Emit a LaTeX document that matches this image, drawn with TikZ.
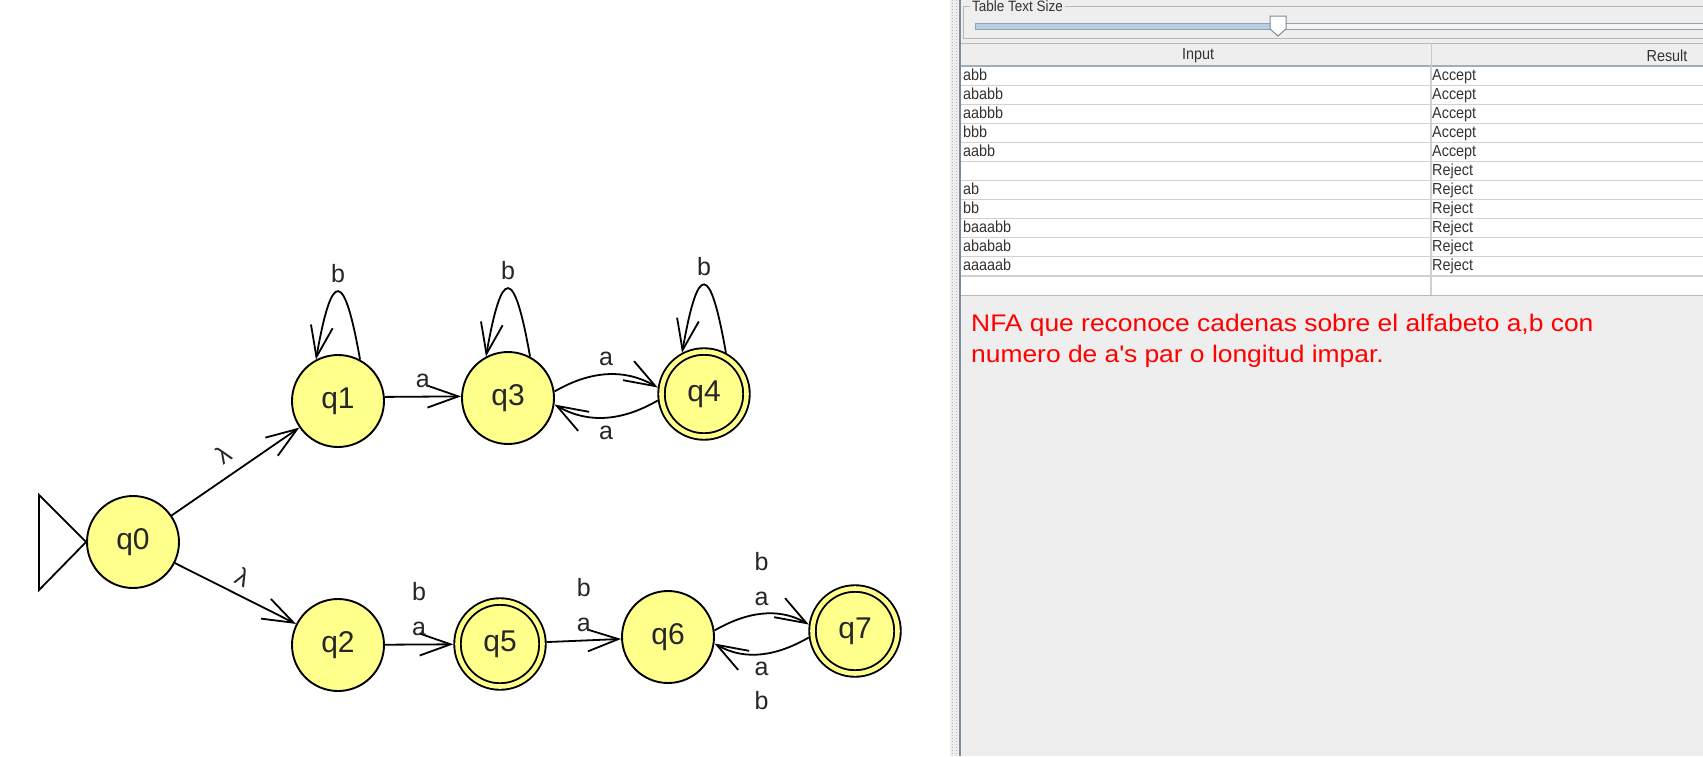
\documentclass[tikz,border=0pt]{standalone}
\usepackage{fontspec}
\setmainfont{Liberation Sans}
\newfontfamily\notefont{Liberation Sans}[FakeStretch=1.1]
\newfontfamily\cellfont{Liberation Sans}[FakeStretch=0.9]
\usetikzlibrary{arrows.meta,calc}
\definecolor{statefill}{RGB}{255,255,140}
\definecolor{panelgray}{RGB}{238,238,238}
\definecolor{metalblue}{RGB}{122,138,153}
\definecolor{gridgray}{RGB}{208,208,208}
\definecolor{celltext}{RGB}{51,51,51}
\definecolor{trackblue}{RGB}{184,207,229}
\definecolor{etchgray}{RGB}{184,184,184}
\tikzset{
	state/.style={circle, draw, line width=1.9pt, fill=statefill, minimum size=92pt, inner sep=0pt, outer sep=0.95pt, text=black!85, font=\fontsize{30}{30}\selectfont},
	final/.style={state, minimum size=85pt, double=statefill, double distance=4.6pt, outer sep=4.2pt},
	edge/.style={line width=1.8pt, -{Straight Barb[length=31pt,width=22pt]}},
	lbl/.style={font=\fontsize{25}{25}\selectfont, text=black!85, inner sep=3pt, text height=18pt, text depth=5pt},
	cell/.style={font=\cellfont\fontsize{16}{16}\selectfont, text=celltext, anchor=base west, inner sep=0pt},
	head/.style={font=\cellfont\fontsize{16}{16}\selectfont, text=celltext, inner sep=0pt},
}

\begin{document}
\begin{tikzpicture}[x=1pt, y=1pt]
		%%%%% START %%%%%
		\useasboundingbox (0,0) rectangle (1703,-756);
		\fill[white] (0,0) rectangle (950,-756);
		
		% states
		\node[state] (q0) at (133,-542) {q0};
		\node[state] (q1) at (338,-401) {q1};
		\node[state] (q3) at (508,-398) {q3};
		\node[final] (q4) at (704,-394) {q4};
		\node[state] (q2) at (338,-645) {q2};
		\node[final] (q5) at (500,-644) {q5};
		\node[state] (q6) at (668,-637) {q6};
		\node[final] (q7) at (855,-631) {q7};
		
		\draw[line width=1.8pt] (q0.west) -- ++(-47,47) -- ++(0,-95) -- cycle;
		
		% transitions
		\draw[edge] (q0) -- node[lbl, sloped, above=3pt] (l01) {λ} (q1);
		\draw[edge] (q0) -- node[lbl, sloped, above] (l02) {λ} (q2);
		\draw[edge] (q1.62) to[out=100, in=80, distance=92pt] node[lbl, above] (l11) {b} (q1.118);
		\draw[edge] (q3.62) to[out=100, in=80, distance=92pt] node[lbl, above] (l33) {b} (q3.118);
		\draw[edge] (q4.62) to[out=100, in=80, distance=92pt] node[lbl, above] (l44) {b} (q4.118);
		\draw[edge] (q1.5) -- node[lbl, above] (l13) {a} (q3.178);
		\draw[edge] (q3.8) to[out=30, in=150, distance=40pt] node[lbl, above] (l34) {a} (q4.172);
		\draw[edge] (q4.188) to[out=-150, in=-30, distance=40pt] node[lbl, below] (l43) {a} (q3.352);
		
		\draw[edge] (q2) -- node[lbl, above] (l25a) {a} node[lbl, above=35pt] (l25b) {b} (q5);
		\draw[edge] (q5) -- node[lbl, above] (l56a) {a} node[lbl, above=35pt] (l56b) {b} (q6);
		\draw[edge] (q6.8) to[out=30, in=150, distance=36pt] node[lbl, above] (l67a) {a} node[lbl, above=35pt] (l67b) {b} (q7.172);
		\draw[edge] (q7.188) to[out=-150, in=-30, distance=36pt] node[lbl, below] (l76a) {a} node[lbl, below=34pt] (l76b) {b} (q6.352);
		
		% right panel
		\fill[panelgray] (950,0) rectangle (1703,-756);
		\draw[gray!55, line width=1pt, dotted] (952,0) -- (952,-756);
		\draw[gray!55, line width=1pt, dotted] (956,0) -- (956,-756);
		\draw[metalblue, line width=2.5pt] (960,0) -- (960,-756);
		
		% slider
		\draw[etchgray, line width=1pt] (963,-6) rectangle (1710,-38);
		\node[head, fill=panelgray, anchor=west, inner xsep=2pt, font=\cellfont\fontsize{15}{15}\selectfont] (title) at (970,-6) {Table Text Size};
		\draw[metalblue!80, line width=1pt, fill=gray!8] (975,-23) rectangle (1710,-29);
		\draw[metalblue!80, line width=1pt, fill=trackblue] (975,-23) rectangle (1278,-29);
		\draw[metalblue, line width=1pt, fill=white] (1270,-16) -- (1286,-16) -- (1286,-29) -- (1278,-36) -- (1270,-29) -- cycle;
		
		% table
		\fill[white] (961,-66) rectangle (1703,-295);
		\draw[etchgray, line width=1pt] (961,-43) -- (1703,-43);
		\draw[metalblue!70, line width=1.4pt] (961,-66) -- (1703,-66);
		\draw[gridgray, line width=1.2pt] (961,-85.1) -- (1703,-85.1);
		\draw[gridgray, line width=1.2pt] (961,-104.2) -- (1703,-104.2);
		\draw[gridgray, line width=1.2pt] (961,-123.2) -- (1703,-123.2);
		\draw[gridgray, line width=1.2pt] (961,-142.3) -- (1703,-142.3);
		\draw[gridgray, line width=1.2pt] (961,-161.4) -- (1703,-161.4);
		\draw[gridgray, line width=1.2pt] (961,-180.5) -- (1703,-180.5);
		\draw[gridgray, line width=1.2pt] (961,-199.6) -- (1703,-199.6);
		\draw[gridgray, line width=1.2pt] (961,-218.6) -- (1703,-218.6);
		\draw[gridgray, line width=1.2pt] (961,-237.7) -- (1703,-237.7);
		\draw[gridgray, line width=1.2pt] (961,-256.8) -- (1703,-256.8);
		\draw[gridgray, line width=1.2pt] (961,-275.9) -- (1703,-275.9);
		\draw[etchgray, line width=1pt] (961,-295) -- (1703,-295);
		\draw[metalblue!45, line width=1pt] (1431,-43) -- (1431,-66);
		\draw[gridgray, line width=1.2pt] (1431,-66) -- (1431,-295);
		
		\node[head] (hin) at (1198,-56) {Input};
		\node[head] (hres) at (1667,-56) {Result};
		
		\node[cell] (in1) at (963,-80) {abb};
		\node[cell] (res1) at (1432,-80) {Accept};
		\node[cell] (in2) at (963,-99.1) {ababb};
		\node[cell] (res2) at (1432,-99.1) {Accept};
		\node[cell] (in3) at (963,-118.2) {aabbb};
		\node[cell] (res3) at (1432,-118.2) {Accept};
		\node[cell] (in4) at (963,-137.2) {bbb};
		\node[cell] (res4) at (1432,-137.2) {Accept};
		\node[cell] (in5) at (963,-156.3) {aabb};
		\node[cell] (res5) at (1432,-156.3) {Accept};
		\node[cell] (res6) at (1432,-175.4) {Reject};
		\node[cell] (in7) at (963,-194.5) {ab};
		\node[cell] (res7) at (1432,-194.5) {Reject};
		\node[cell] (in8) at (963,-213.6) {bb};
		\node[cell] (res8) at (1432,-213.6) {Reject};
		\node[cell] (in9) at (963,-232.6) {baaabb};
		\node[cell] (res9) at (1432,-232.6) {Reject};
		\node[cell] (in10) at (963,-251.7) {ababab};
		\node[cell] (res10) at (1432,-251.7) {Reject};
		\node[cell] (in11) at (963,-270.8) {aaaaab};
		\node[cell] (res11) at (1432,-270.8) {Reject};
		
		% note
		\node[anchor=base west, inner sep=0pt, text=red, font=\notefont\fontsize{24}{24}\selectfont] (note1) at (971,-331) {NFA que reconoce cadenas sobre el alfabeto a,b con};
		\node[anchor=base west, inner sep=0pt, text=red, font=\notefont\fontsize{24}{24}\selectfont] (note2) at (971,-362) {numero de a\textquotesingle s par o longitud impar.};
		%%%%% END %%%%%
\end{tikzpicture}
\end{document}
